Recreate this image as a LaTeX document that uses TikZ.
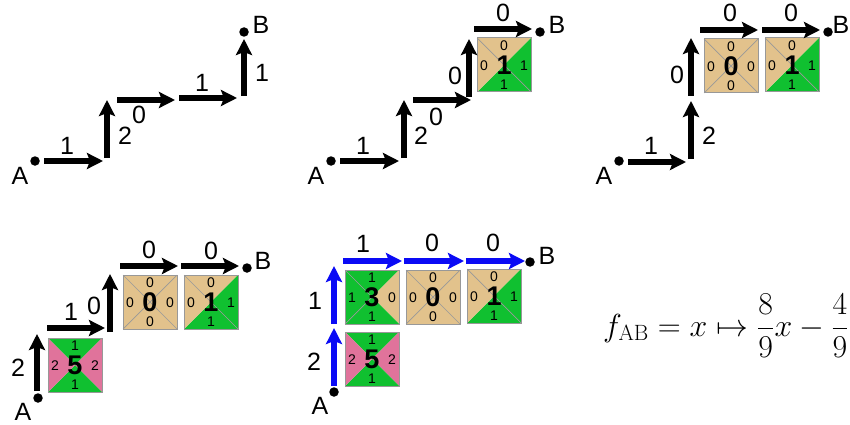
\documentclass[tikz,border=0pt]{standalone}
\usepackage[no-math]{fontspec}
\usepackage{amsmath}
\setmainfont{Liberation Sans}
\usetikzlibrary{positioning, arrows.meta, calc}

\definecolor{tile0}{HTML}{E2C28C}
\definecolor{tile1}{HTML}{10C030}
\definecolor{tile2}{HTML}{E0739B}
\definecolor{tileedge}{HTML}{989898}
\definecolor{pathblue}{HTML}{0A0AF5}

% name, centre, big number, then north, east, south, west
\newcommand{\tile}[7]{
	\node[tilebox] (#1) at (#2) {};
	\fill[tile#4] (#1.center) -- (#1.north west) -- (#1.north east) -- cycle;
	\fill[tile#5] (#1.center) -- (#1.north east) -- (#1.south east) -- cycle;
	\fill[tile#6] (#1.center) -- (#1.south east) -- (#1.south west) -- cycle;
	\fill[tile#7] (#1.center) -- (#1.south west) -- (#1.north west) -- cycle;
	\ifnum#4=#7 \draw[tilediag] (#1.center) -- (#1.north west); \fi
	\ifnum#4=#5 \draw[tilediag] (#1.center) -- (#1.north east); \fi
	\ifnum#5=#6 \draw[tilediag] (#1.center) -- (#1.south east); \fi
	\ifnum#6=#7 \draw[tilediag] (#1.center) -- (#1.south west); \fi
	\draw[tileedge, line width=1pt] (#1.north west) rectangle (#1.south east);
	\node[edgenum] (#1n) at ($(#1.center)+(0,-19)$) {#4};
	\node[edgenum] (#1e) at ($(#1.center)+(20,1)$) {#5};
	\node[edgenum] (#1s) at ($(#1.center)+(0,20)$) {#6};
	\node[edgenum] (#1w) at ($(#1.center)+(-20,1)$) {#7};
	\node[bignum] (#1c) at (#1.center) {#3};
}

\begin{document}
\begin{tikzpicture}[x=1pt, y=-1pt]
	\tikzset{
		hop/.style={line width=5.5pt, -{Stealth[length=16pt, width=16pt, inset=3pt]}},
		point/.style={circle, fill=black, minimum size=9.5pt, inner sep=0pt},
		plainlabel/.style={inner sep=0pt, font=\fontsize{25}{27}\selectfont},
		tilebox/.style={minimum size=54pt, inner sep=0pt, outer sep=0pt},
		tilediag/.style={tileedge, line width=0.7pt},
		edgenum/.style={inner sep=0pt, font=\fontsize{14}{15}\selectfont},
		bignum/.style={inner sep=0pt, font=\fontsize{27}{29}\selectfont\bfseries}
	}
	\useasboundingbox (0,0) rectangle (850,425);

	% end points and their letters
	\foreach \nm/\x/\y/\lx/\ly/\txt in {
		pa1/35/161/20/176/A, pb1/244/32/261/25/B,
		pa2/331/161/316/176/A, pb2/540/32/557/25/B,
		pa3/619/161/604/176/A, pb3/828/32/841/25/B,
		pa4/38/398/23/412/A, pb4/247/268/263/261/B,
		pa5/334/392/320/406/A, pb5/530/262/547/256/B} {
		\node[point] (\nm) at (\x,\y) {};
		\node[plainlabel] (\nm t) at (\lx,\ly) {\txt};
	}

	% tiles
	\tile{tb}{504,65}{1}{0}{1}{1}{0}
	\tile{tca}{731,66}{0}{0}{0}{0}{0}
	\tile{tcb}{792,65}{1}{0}{1}{1}{0}
	\tile{tda}{75,365}{5}{1}{2}{1}{2}
	\tile{tdb}{150,302}{0}{0}{0}{0}{0}
	\tile{tdc}{211,302}{1}{0}{1}{1}{0}
	\tile{tea}{372,297}{3}{1}{0}{1}{1}
	\tile{teb}{433,297}{0}{0}{0}{0}{0}
	\tile{tec}{494,296}{1}{0}{1}{1}{0}
	\tile{ted}{372,359}{5}{1}{2}{1}{2}

	% black arrows
	\foreach \nm/\ax/\ay/\bx/\by/\lx/\ly/\val in {
		ha/44/161/103/161/67/146/1, hb/107/158/107/100/125/136/2,
		hc/117/100/175/100/139/115/0, hd/179/98/237/98/202/83/1,
		he/244/96/244/39/262/73/1,
		ia/340/161/399/161/363/146/1, ib/404/158/404/100/421/136/2,
		ic/413/100/471/100/436/117/0, id/469/97/469/39/455/76/0,
		ie/474/29/532/29/503/13/0,
		ja/628/162/686/162/651/146/1, jb/691/159/691/101/709/136/2,
		jc/691/96/691/38/677/75/0, jd/700/30/758/30/730/13/0,
		je/762/30/820/30/791/13/0,
		ka/37/391/37/334/18/368/2, kb/47/328/105/328/71/312/1,
		kc/110/332/110/274/94/306/0, kd/120/266/178/266/149/250/0,
		ke/181/266/239/266/211/251/0} {
		\coordinate (\nm s) at (\ax,\ay);
		\coordinate (\nm e) at (\bx,\by);
		\draw[hop] (\nm s) -- (\nm e);
		\node[plainlabel] (\nm l) at (\lx,\ly) {\val};
	}

	% blue arrows
	\foreach \nm/\ax/\ay/\bx/\by/\lx/\ly/\val in {
		la/334/386/334/328/314/362/2, lb/334/324/334/266/315/301/1,
		lc/343/261/402/261/363/244/1, ld/404/261/464/261/432/243/0,
		le/466/261/525/261/493/243/0} {
		\coordinate (\nm s) at (\ax,\ay);
		\coordinate (\nm e) at (\bx,\by);
		\draw[hop, pathblue] (\nm s) -- (\nm e);
		\node[plainlabel] (\nm l) at (\lx,\ly) {\val};
	}

	\node[inner sep=0pt, scale=1.28, font=\fontsize{24}{29}\selectfont] (fab) at (726,326) {$f_{\mathrm{AB}} = x \mapsto \dfrac{8}{9}x - \dfrac{4}{9}$};
\end{tikzpicture}
\end{document}
